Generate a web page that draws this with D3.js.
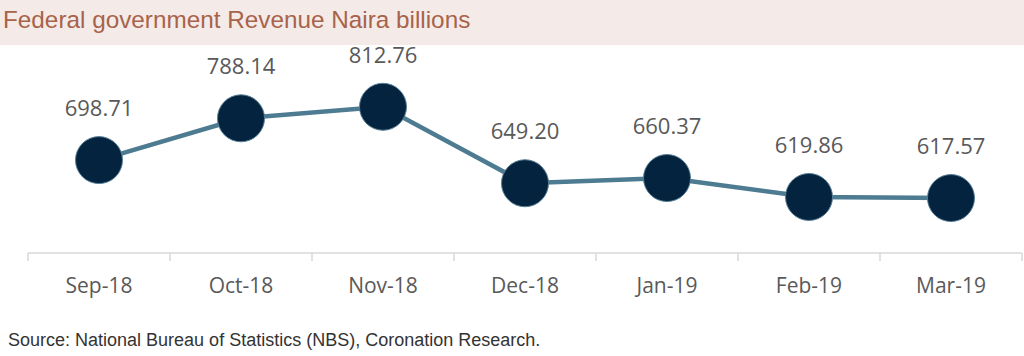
<!DOCTYPE html>
<html><head><meta charset="utf-8">
<script src="https://cdn.jsdelivr.net/npm/d3@7"></script>
<style>body{margin:0;background:#fff}svg{display:block}</style>
</head><body><svg id="c" width="1024" height="356"></svg>
<script>
const categories = ["Sep-18","Oct-18","Nov-18","Dec-18","Jan-19","Feb-19","Mar-19"];
const revenue = [698.71, 788.14, 812.76, 649.20, 660.37, 619.86, 617.57];
const valueLabels = ["698.71","788.14","812.76","649.20","660.37","619.86","617.57"];
const title = "Federal government Revenue Naira billions";
const source = "Source: National Bureau of Statistics (NBS), Coronation Research.";

const svg = d3.select("#c");
svg.append("rect").attr("x",0).attr("y",0).attr("width",1024).attr("height",45).attr("fill","#f4ebe8");
svg.append("text").attr("x",3).attr("y",28).attr("font-family","Liberation Sans, Arial, sans-serif")
  .attr("font-size",24.3).attr("fill","#a8634a").text(title);

const x = d3.scaleBand().domain(categories).range([28,1022]);
const y = d3.scaleLinear().domain([500,900]).range([253,66]);

const axisY = 253;
const gx = svg.append("g").attr("transform",`translate(0,${axisY})`);
gx.append("line").attr("x1",28).attr("x2",1022).attr("stroke","#d9d9d9").attr("stroke-width",1.5);
const bounds = categories.map(c=>x(c)).concat([x(categories[categories.length-1])+x.bandwidth()]);
gx.selectAll("line.t").data(bounds).join("line").attr("class","t")
  .attr("x1",d=>d).attr("x2",d=>d).attr("y1",0).attr("y2",8).attr("stroke","#d9d9d9").attr("stroke-width",1.5);
gx.selectAll("text").data(categories).join("text")
  .attr("x",d=>x(d)+x.bandwidth()/2).attr("y",40).attr("text-anchor","middle")
  .attr("font-family","Open Sans, sans-serif").attr("font-size",21).attr("fill","#595959").text(d=>d);

const cx = (d,i)=>x(categories[i])+x.bandwidth()/2;
const line = d3.line().x(cx).y(d=>y(d));
svg.append("path").datum(revenue).attr("d",line).attr("fill","none").attr("stroke","#4d7b91").attr("stroke-width",4.5);
svg.selectAll("circle").data(revenue).join("circle")
  .attr("cx",cx).attr("cy",d=>y(d)).attr("r",23.5).attr("fill","#03233f").attr("stroke","#5a7f95").attr("stroke-width",1);
svg.selectAll("text.v").data(revenue).join("text").attr("class","v")
  .attr("x",cx).attr("y",d=>y(d)-44).attr("text-anchor","middle")
  .attr("font-family","Open Sans, sans-serif").attr("font-size",22).attr("fill","#595959").text((d,i)=>valueLabels[i]);

svg.append("text").attr("x",8).attr("y",346).attr("font-family","Liberation Sans, Arial, sans-serif")
  .attr("font-size",18).attr("fill","#333").text(source);
</script></body></html>
